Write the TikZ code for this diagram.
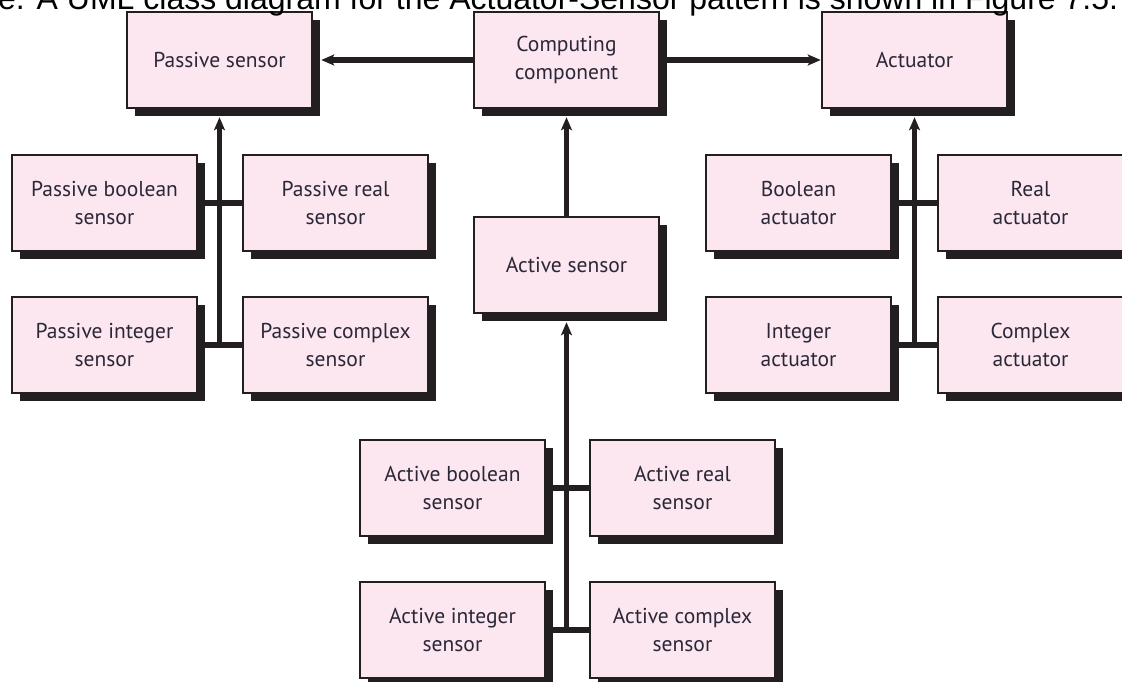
\documentclass[tikz,border=0pt]{standalone}
\usepackage{fontspec}
\setmainfont{Liberation Sans}
\newfontfamily\boxfont{PT Sans}
\usetikzlibrary{arrows.meta,shadows}
\definecolor{pinkfill}{RGB}{252,230,239}
\definecolor{ink}{RGB}{35,31,32}
\definecolor{txt}{RGB}{42,40,56}
\tikzset{
  cls/.style={draw=ink, line width=2.5pt, fill=pinkfill,
    minimum width=185pt, minimum height=96pt, inner sep=0pt,
    align=center, text=txt,
    font=\boxfont\fontsize{21.5}{27.7}\selectfont,
    general shadow={fill=ink, draw=none, shadow xshift=8pt, shadow yshift=-8pt}},
  link/.style={draw=ink, line width=5.5pt},
  arr/.style={link, -{Stealth[length=13pt,width=11pt,inset=3pt]}}
}
\begin{document}
\begin{tikzpicture}[x=1pt,y=-1pt]
\useasboundingbox (0,0) rectangle (1122,682);
\clip (0,0) rectangle (1122,682);
\fill[white] (0,0) rectangle (1122,682);
% top row
\node[cls] (ps)  at (219.5,60) {Passive sensor};
\node[cls] (cc)  at (566.5,60) {Computing\\component};
\node[cls] (act) at (914.5,60) {Actuator};
% passive sensors
\node[cls] (pb) at (104.5,203) {Passive boolean\\sensor};
\node[cls] (pr) at (335.5,203) {Passive real\\sensor};
\node[cls] (pi) at (104.5,345) {Passive integer\\sensor};
\node[cls] (pc) at (335.5,345) {Passive complex\\sensor};
% active sensor
\node[cls] (as) at (566.5,265) {Active sensor};
\node[cls] (ab) at (452.5,488) {Active boolean\\sensor};
\node[cls] (ar) at (682.5,488) {Active real\\sensor};
\node[cls] (ai) at (452.5,630) {Active integer\\sensor};
\node[cls] (ac) at (682.5,630) {Active complex\\sensor};
% actuators
\node[cls] (ba) at (798.5,203) {Boolean\\actuator};
\node[cls] (ra) at (1030.5,203) {Real\\actuator};
\node[cls] (ia) at (798.5,345) {Integer\\actuator};
\node[cls] (ca) at (1030.5,345) {Complex\\actuator};
% horizontal arrows
\draw[arr] (cc.west) -- ([xshift=8pt]ps.east);
\draw[arr] (cc.east) -- (act.west);
% passive bus
\draw[link] (pb.east) -- (pr.west);
\draw[link] (pi.east) -- (pc.west);
\draw[arr] (ps.south |- pi.east) -- ([yshift=-8pt]ps.south);
% actuator bus
\draw[link] (ba.east) -- (ra.west);
\draw[link] (ia.east) -- (ca.west);
\draw[arr] (act.south |- ia.east) -- ([yshift=-8pt]act.south);
% active
\draw[arr] (as.north) -- ([yshift=-8pt]cc.south);
\draw[link] (ab.east) -- (ar.west);
\draw[link] (ai.east) -- (ac.west);
\draw[arr] (as.south |- ai.east) -- ([yshift=-8pt]as.south);
% cut-off caption line at the top
\node[anchor=base west, inner sep=0pt, font=\fontsize{32}{38}\selectfont] (caption) at (-2,9.5)
  {e. A UML class diagram for the Actuator-Sensor pattern is shown in Figure 7.5.};
\end{tikzpicture}
\end{document}
